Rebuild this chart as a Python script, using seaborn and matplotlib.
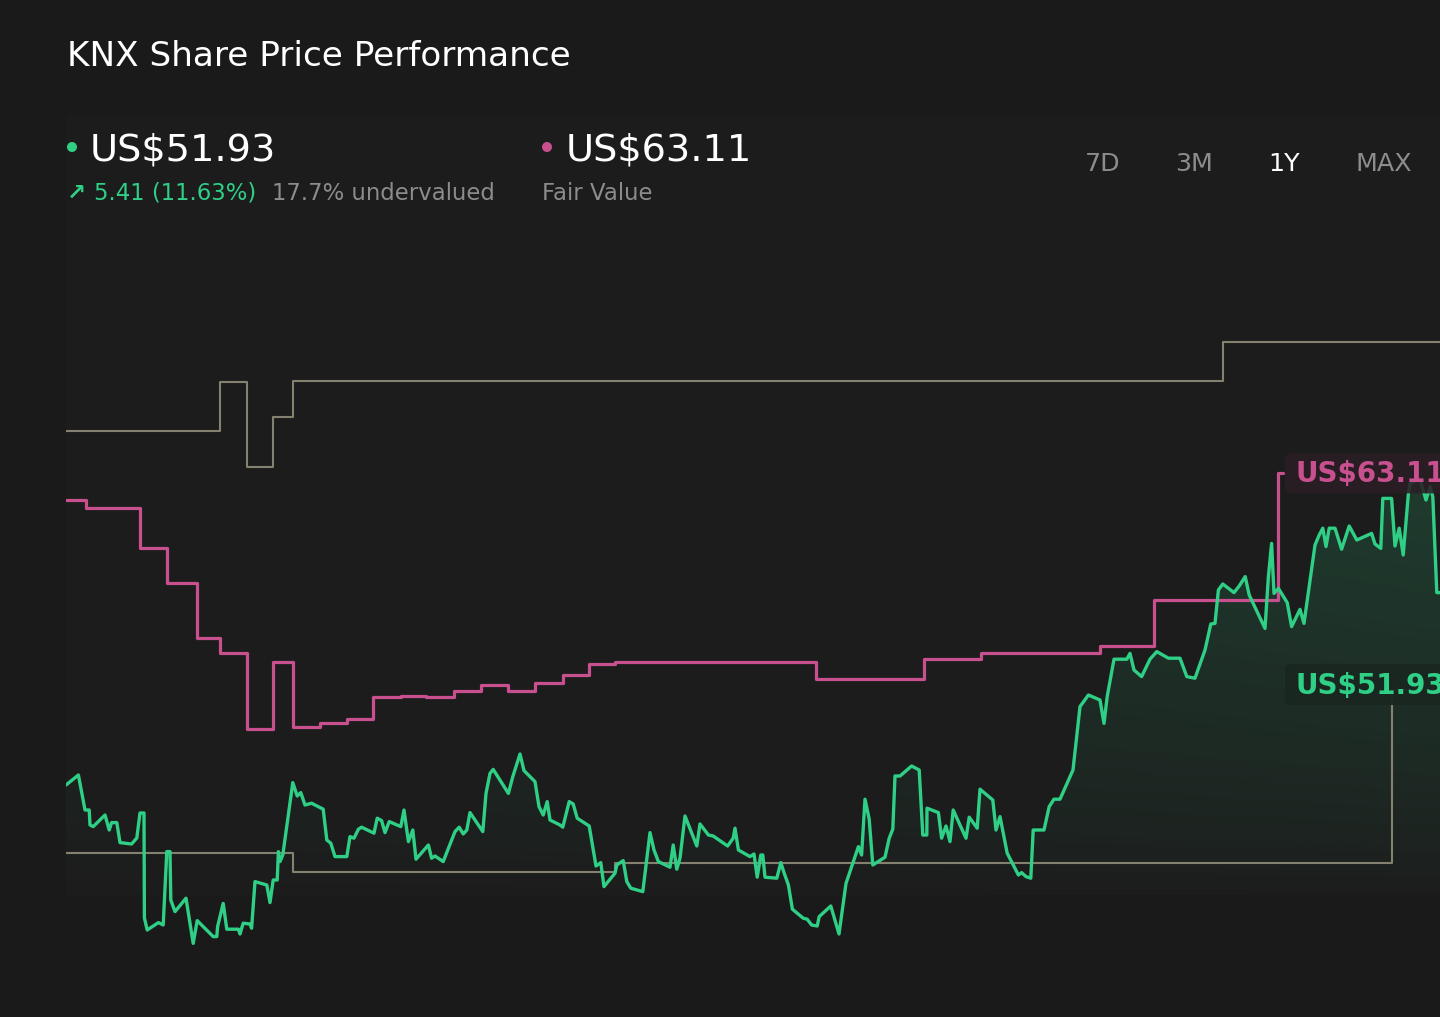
import numpy as np
import pandas as pd
import matplotlib
matplotlib.use("Agg")
import matplotlib.pyplot as plt
import seaborn as sns
from matplotlib.patches import Circle, FancyBboxPatch, Rectangle
from matplotlib.transforms import IdentityTransform
from matplotlib.colors import to_rgb

# ---------------- data ----------------
price_day = [0, 3.1, 4.75, 5.8, 6.0, 6.8, 9.75, 10.8, 11.4, 12.7, 13.5, 16.4, 17.7, 18.5, 19.5,
             19.6, 20.3, 23.1, 24.3, 25.2, 26.0, 26.2, 27.25, 30.0, 31.8, 32.8, 36.8, 37.7, 37.9,
             38.5, 39.3, 40.2, 43.1, 43.5, 44.3, 46.0, 46.4, 47.25, 50.2, 51.0, 51.8, 52.8, 53.1,
             53.5, 54.2, 56.7, 57.8, 58.7, 59.75, 61.4, 64.3, 65.2, 66.2, 67.25, 70.2, 71.0, 72.0,
             73.1, 73.9, 77.0, 77.8, 78.9, 79.75, 80.8, 83.7, 84.5, 85.6, 86.7, 87.5, 90.6, 91.4,
             92.25, 94.3, 97.25, 98.3, 99.3, 100.2, 101.0, 104.2, 105.0, 106.0, 106.8, 110.6,
             111.7, 113.5, 114.5, 117.25, 118.25, 119.3, 120.3, 121.0, 123.5, 124.2, 125.8, 126.8,
             127.8, 130.8, 132.5, 133.7, 134.5, 137.25, 137.7, 139.3, 140.2, 141.2, 144.2, 146.0,
             147.0, 148.1, 151.0, 151.8, 152.7, 153.5, 154.75, 157.7, 158.5, 160.6, 161.8, 165.4,
             166.8, 167.25, 168.1, 171.0, 172.0, 172.8, 173.7, 174.2, 174.75, 177.7, 178.7, 179.5,
             180.6, 181.6, 184.3, 185.3, 186.4, 187.8, 188.3, 191.2, 193.25, 195.0, 198.1, 198.9,
             199.75, 200.8, 201.7, 204.75, 205.8, 206.7, 207.25, 208.5, 211.4, 213.3, 214.2, 215.2,
             215.25, 218.1, 218.9, 220.0, 221.0, 221.8, 225.0, 225.8, 227.8, 228.5, 231.7, 232.5,
             233.5, 235.3, 238.1, 238.9, 240.0, 241.2, 241.8, 244.5, 245.8, 247.0, 248.5, 251.75,
             253.5, 255.6, 258.5, 259.5, 260.3, 262.0, 265.2, 266.0, 267.0, 268.9, 271.0, 272.7,
             275.6, 278.5, 280.2, 282.25, 284.75, 286.2, 287.25, 288.1, 289.2, 292.0, 293.3, 294.8,
             295.8, 299.75, 300.6, 301.4, 302.0, 303.1, 305.3, 306.4, 308.5, 309.5, 312.25, 313.3,
             314.2, 315.0, 315.8, 317.25, 318.9, 320.8, 322.7, 326.4, 327.25, 328.7, 329.2, 331.4,
             332.25, 333.3, 334.3, 335.6, 336.0, 338.5, 340.0, 341.0, 341.7, 342.7, 343.5]
price_usd = [47.53, 48.03, 46.28, 46.28, 45.53, 45.45, 46.03, 45.28, 45.65, 45.65, 44.65, 44.58,
             44.88, 46.13, 46.13, 40.88, 40.28, 40.65, 40.53, 44.2, 44.2, 41.78, 41.2, 41.87, 39.61,
             40.75, 39.95, 39.95, 40.45, 40.95, 41.61, 40.32, 40.32, 40.08, 40.62, 40.58, 40.37,
             42.7, 42.53, 41.65, 42.78, 42.78, 44.2, 43.7, 44.03, 47.65, 46.98, 47.15, 46.53, 46.62,
             46.32, 44.78, 44.62, 43.95, 43.95, 44.95, 44.87, 45.32, 45.42, 45.12, 45.87, 45.75,
             45.15, 45.7, 45.45, 46.28, 44.7, 45.28, 43.82, 44.53, 43.87, 43.98, 43.7, 45.2, 45.42,
             45.08, 45.28, 46.15, 45.2, 47.11, 48.11, 48.31, 47.11, 47.95, 49.08, 48.25, 47.7,
             46.45, 46.03, 46.7, 45.78, 45.53, 45.42, 46.7, 46.58, 45.87, 45.48, 43.48, 43.65,
             42.45, 43.12, 43.53, 43.75, 42.7, 42.37, 42.2, 45.15, 44.28, 43.7, 43.42, 44.53, 43.32,
             43.87, 45.98, 44.48, 45.58, 45.03, 44.98, 44.48, 44.87, 45.37, 44.28, 43.95, 44.08,
             42.92, 44.03, 44.03, 42.92, 42.87, 43.65, 43.15, 42.53, 41.32, 40.87, 40.82, 40.53,
             40.48, 40.95, 41.48, 40.08, 42.61, 44.45, 44.03, 46.82, 45.82, 43.53, 43.92, 44.87,
             45.32, 47.98, 47.98, 48.48, 48.28, 45.03, 45.03, 46.37, 46.15, 44.87, 45.48, 44.7,
             46.28, 44.87, 45.92, 45.37, 47.32, 46.78, 45.28, 45.95, 44.12, 43.03, 43.15, 42.95,
             42.87, 45.28, 45.28, 46.45, 46.82, 46.82, 48.28, 51.45, 52.03, 51.78, 50.61, 51.95,
             53.82, 53.82, 54.11, 53.28, 52.95, 53.82, 54.2, 53.87, 53.87, 52.95, 52.87, 54.28,
             55.58, 55.61, 57.28, 57.58, 57.15, 57.48, 57.95, 57.03, 55.36, 57.95, 59.61, 57.11,
             57.36, 56.65, 55.45, 56.31, 55.61, 59.53, 60.03, 60.37, 59.45, 60.37, 60.37, 59.32,
             60.48, 59.78, 60.11, 59.58, 59.36, 61.86, 61.86, 59.48, 60.37, 59.03, 62.11, 62.61,
             62.81, 61.78, 62.45, 61.95, 57.15, 57.15]

fv_day = [0, 5.0, 18.5, 25.2, 32.7, 38.5, 45.2, 51.8, 56.8, 63.5, 70.2, 76.7, 83.7, 90.1, 97.1,
          103.85, 110.5, 117.25, 124.15, 130.65, 137.25, 187.4, 214.45, 228.75, 258.45, 272.0,
          302.9, 304.3]
fv_usd = [61.78, 61.38, 59.4, 57.65, 54.87, 54.15, 50.32, 53.7, 50.45, 50.65, 50.82, 51.92, 52.0,
          51.92, 52.23, 52.53, 52.25, 52.61, 53.03, 53.58, 53.66, 52.83, 53.83, 54.15, 54.5,
          56.78, 63.11, 63.11]

upper_day = [0, 38.5, 45.2, 51.8, 56.8, 289.2, 343.5]
upper_usd = [65.23, 67.7, 63.41, 65.95, 67.75, 69.66, 69.66]
lower_day = [0, 56.8, 137.25, 331.4, 343.5]
lower_usd = [44.15, 43.2, 43.61, 52.28, 52.28]

title = "KNX Share Price Performance"
price_label = "US$51.93"
fv_label = "US$63.11"
change_label = "5.41 (11.63%)"
valuation_label = "17.7% undervalued"
periods = ["7D", "3M", "1Y", "MAX"]
active_period = "1Y"

# ---------------- style ----------------
W, H = 1440, 1017
BG = "#1a1a1a"
GREEN = "#2fcf86"
PINK = "#c8508f"
GRAY_LINE = "#858170"
GRAY_TEXT = "#8c8c8c"

sns.set_theme(style="dark")
plt.rcParams["font.family"] = ["DejaVu Sans"]

fig = plt.figure(figsize=(W / 100, H / 100), dpi=100, facecolor=BG)


def ftext(x, y, s, **kw):
    return fig.text(x / W, 1 - y / H, s, **kw)


# faint plot panel
fig.add_artist(Rectangle((66 / W, 1 - 895 / H), 1 - 66 / W, (895 - 115) / H,
                         transform=fig.transFigure, facecolor="#1c1c1c", edgecolor="none",
                         zorder=0))

ax = fig.add_axes([66 / W, 1 - 1000 / H, 1374 / W, 900 / H])
ax.set_facecolor("none")

price_df = pd.DataFrame({"day": price_day, "usd": price_usd})
fv_df = pd.DataFrame({"day": fv_day, "usd": fv_usd})
up_df = pd.DataFrame({"day": upper_day, "usd": upper_usd})
lo_df = pd.DataFrame({"day": lower_day, "usd": lower_usd})

# gradient area under the price
base = 42.0
top = 63.3
poly = ax.fill_between(price_df["day"], price_df["usd"], base, facecolor="none",
                       edgecolor="none")
nx, ny = 300, 200
xs = np.linspace(0, 1, nx)
ys = np.linspace(0, 1, ny)
XX, YY = np.meshgrid(xs, ys)
img = np.zeros((ny, nx, 4))
img[..., :3] = to_rgb(GREEN)
img[..., 3] = 0.18 * (0.45 + 0.55 * XX) * YY ** 0.7
im = ax.imshow(img, extent=[0, 343.5, base, top], origin="lower", aspect="auto", zorder=1,
               interpolation="bilinear")
im.set_clip_path(poly.get_paths()[0], transform=ax.transData)

sns.lineplot(data=up_df, x="day", y="usd", ax=ax, color=GRAY_LINE, lw=1.5,
             drawstyle="steps-post", sort=False, estimator=None, zorder=2)
sns.lineplot(data=lo_df, x="day", y="usd", ax=ax, color=GRAY_LINE, lw=1.5,
             drawstyle="steps-post", sort=False, estimator=None, zorder=2)
sns.lineplot(data=fv_df, x="day", y="usd", ax=ax, color=PINK, lw=2.3,
             drawstyle="steps-post", sort=False, estimator=None, zorder=3)
sns.lineplot(data=price_df, x="day", y="usd", ax=ax, color=GREEN, lw=2.4,
             sort=False, estimator=None, zorder=4)
ax.set_xlim(0, 343.5)
ax.set_ylim(36.78, 81.78)
ax.axis("off")

# end labels
box_x = 304.75
ax.add_patch(FancyBboxPatch((box_x, fv_usd[-1] - 1.0), 60, 2.0,
                            boxstyle="round,pad=0,rounding_size=1.5", mutation_aspect=0.2,
                            facecolor="#2a1e25", edgecolor="none", alpha=0.88, zorder=5,
                            clip_on=False))
ax.text(307.25, 62.68, fv_label, color=PINK, fontsize=20, fontweight="bold", ha="left",
        va="baseline", zorder=6)
ax.add_patch(FancyBboxPatch((box_x, 51.53), 60, 2.05,
                            boxstyle="round,pad=0,rounding_size=1.5", mutation_aspect=0.2,
                            facecolor="#1a2620", edgecolor="none", alpha=0.95, zorder=5,
                            clip_on=False))
ax.text(307.25, 52.08, price_label, color=GREEN, fontsize=20, fontweight="bold", ha="left",
        va="baseline", zorder=6)

# header
ftext(67, 65.5, title, color="white", fontsize=24.7, va="baseline", ha="left")

fig.add_artist(Circle((72, H - 147), 5, transform=IdentityTransform(), facecolor=GREEN,
                      edgecolor="none"))
ftext(90, 161, price_label, color="white", fontsize=27.5, va="baseline", ha="left")
ftext(67, 200, "\u2197", color=GREEN, fontsize=16.4, fontweight="bold", va="baseline",
      ha="left")
ftext(94, 200, change_label, color=GREEN, fontsize=16.4, va="baseline", ha="left")
ftext(272, 200, valuation_label, color=GRAY_TEXT, fontsize=16.4, va="baseline", ha="left")

fig.add_artist(Circle((547, H - 147), 5, transform=IdentityTransform(), facecolor=PINK,
                      edgecolor="none"))
ftext(566, 161, fv_label, color="white", fontsize=27.5, va="baseline", ha="left")
ftext(542, 200, "Fair Value", color=GRAY_TEXT, fontsize=16.4, va="baseline", ha="left")

for label, x in zip(periods, [1085, 1175, 1268, 1355]):
    ftext(x, 171, label, color="white" if label == active_period else GRAY_TEXT,
          fontsize=18.3, va="baseline", ha="left")

fig.savefig("out.png", dpi=100, facecolor=BG)
